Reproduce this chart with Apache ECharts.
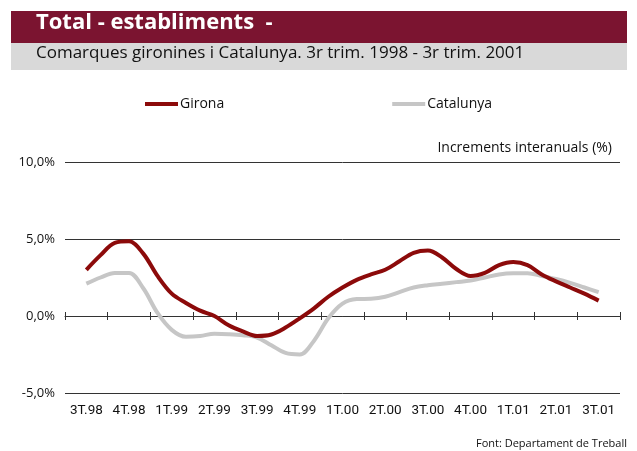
<!DOCTYPE html>
<html>
<head>
<meta charset="utf-8">
<script src="https://cdn.jsdelivr.net/npm/echarts@6/dist/echarts.min.js"></script>
<style>
html,body{margin:0;padding:0;background:#fff;}
#c{width:637px;height:451px;}
</style>
</head>
<body>
<div id="c"></div>
<script>
// Quarter labels
const quarters = ['3T.98','4T.98','1T.99','2T.99','3T.99','4T.99','1T.00','2T.00','3T.00','4T.00','1T.01','2T.01','3T.01'];
// Monthly values (3 per quarter), from 3T.98 to 3T.01
const girona = [3.0,3.95,4.75,4.85,4.05,2.6,1.45,0.85,0.35,0.0,-0.6,-1.0,-1.3,-1.2,-0.75,-0.15,0.5,1.25,1.85,2.35,2.7,3.0,3.55,4.1,4.25,3.8,3.05,2.6,2.8,3.3,3.5,3.3,2.7,2.25,1.85,1.45,1.0];
const catalunya = [2.1,2.5,2.8,2.8,1.8,0.2,-0.9,-1.35,-1.3,-1.15,-1.18,-1.25,-1.4,-1.9,-2.4,-2.5,-1.6,-0.15,0.8,1.1,1.12,1.25,1.55,1.85,2.0,2.1,2.2,2.3,2.5,2.7,2.77,2.77,2.6,2.4,2.15,1.85,1.55];
const yTicks = [-5, 0, 5, 10];
const seriesNames = ['Girona','Catalunya'];

const FONT = '"Open Sans", Roboto, sans-serif';
const chart = echarts.init(document.getElementById('c'), null, {renderer:'canvas'});
const toPts = arr => arr.map((v,i)=>[i/3, v]);

chart.setOption({
  animation:false,
  backgroundColor:'#fff',
  graphic:[
    {type:'rect', shape:{x:11,y:11,width:616,height:32}, style:{fill:'#7b1430'}},
    {type:'rect', shape:{x:11,y:43,width:616,height:27}, style:{fill:'#d9d9d9'}},
    {type:'text', left:36, top:12, style:{text:'Total - establiments  -', fill:'#fff', font:'bold 22px '+FONT}},
    {type:'text', left:36, top:45, style:{text:'Comarques gironines i Catalunya. 3r trim. 1998 - 3r trim. 2001', fill:'#111', font:'17px '+FONT}},
    {type:'text', right:25, top:141, style:{text:'Increments interanuals (%)', fill:'#111', font:'14px '+FONT}},
    {type:'text', right:10, top:438, style:{text:'Font: Departament de Treball', fill:'#111', font:'11px '+FONT}}
  ],
  legend:{
    data:seriesNames,
    top:92,
    left:140,
    itemGap:168,
    itemWidth:33,
    itemHeight:4,
    icon:'rect',
    textStyle:{fontFamily:FONT,fontSize:14,color:'#111',padding:[0,0,0,-3]}
  },
  grid:{left:65,right:17,top:162,bottom:58,containLabel:false},
  xAxis:[
    {type:'category', data:quarters, boundaryGap:true, position:'bottom',
     axisLine:{show:false,onZero:false}, axisTick:{show:false},
     axisLabel:{interval:0,color:'#111',fontFamily:'Roboto, sans-serif',fontSize:13.5,margin:11}},
    {type:'category', data:quarters, boundaryGap:true, position:'bottom',
     axisLine:{show:true,onZero:true,onZeroAxisIndex:0,lineStyle:{color:'#333',width:1}},
     axisTick:{show:true,interval:0,length:4,inside:false,lineStyle:{color:'#333'}},
     axisLabel:{show:false}, splitLine:{show:false}},
    {type:'category', data:quarters, boundaryGap:true, position:'bottom',
     axisLine:{show:false,onZero:true,onZeroAxisIndex:1},
     axisTick:{show:true,interval:0,length:4,inside:true,lineStyle:{color:'#333'}},
     axisLabel:{show:false}, splitLine:{show:false}},
    {type:'value', min:-0.5, max:12.5, show:false}
  ],
  yAxis:[
    {type:'value', min:-5, max:10, interval:5,
     axisLine:{show:false}, axisTick:{show:false},
     axisLabel:{color:'#111',fontFamily:FONT,fontSize:13,margin:10,
       formatter:v=>v.toFixed(1).replace('.',',')+'%'},
     splitLine:{show:true,lineStyle:{color:'#333',width:1}}},
    {type:'value', min:-5, max:10, interval:5, show:false, splitLine:{show:false}}
  ],
  series:[
    {name:seriesNames[0], type:'line', xAxisIndex:3, yAxisIndex:0, data:toPts(girona),
     smooth:0.35, showSymbol:false, symbol:'none', z:3,
     lineStyle:{color:'#8c0a0a',width:4}, itemStyle:{color:'#8c0a0a'}},
    {name:seriesNames[1], type:'line', xAxisIndex:3, yAxisIndex:0, data:toPts(catalunya),
     smooth:0.35, showSymbol:false, symbol:'none', z:2,
     lineStyle:{color:'#c6c6c6',width:4}, itemStyle:{color:'#c6c6c6'}}
  ]
});
</script>
</body>
</html>
